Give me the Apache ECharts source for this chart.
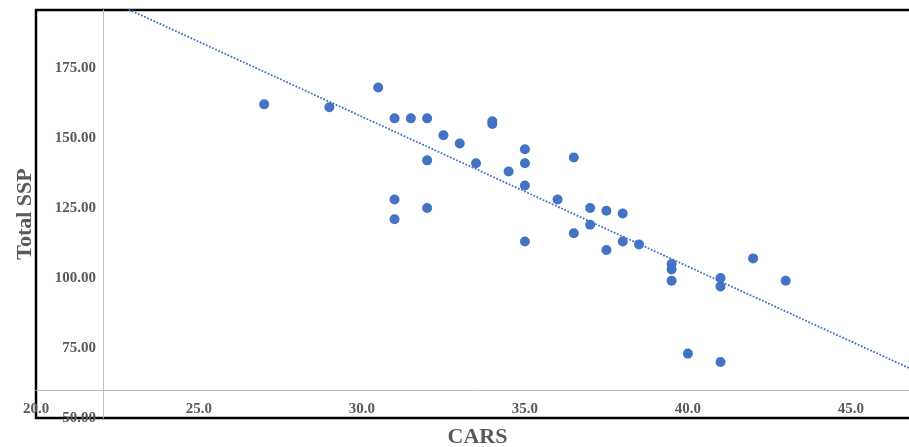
<!DOCTYPE html>
<html>
<head>
<meta charset="utf-8">
<script src="https://cdn.jsdelivr.net/npm/echarts@6/dist/echarts.min.js"></script>
<style>
html,body{margin:0;padding:0;background:#fff;overflow:hidden;}
#c{width:909px;height:447px;}
</style>
</head>
<body>
<div id="c"></div>
<script>
// CARS values
var carsX = [27, 29, 30.5, 31, 31.5, 32, 32, 31, 31, 32, 32.5, 33, 33.5, 34, 34, 34.5, 35, 35, 35, 35,
  36.5, 36, 36.5, 37, 37, 37.5, 38, 37.5, 38, 38.5, 39.5, 39.5, 39.5, 41, 41, 42, 43, 40, 41];
// Total SSP values
var sspY = [162, 161, 168, 157, 157, 157, 142, 128, 121, 125, 151, 148, 141, 156, 155, 138, 146, 141, 133, 113,
  143, 128, 116, 125, 119, 124, 123, 110, 113, 112, 105, 103, 99, 100, 97, 107, 99, 73, 70];
// Linear trendline endpoints
var trendX = [20, 47.5];
var trendY = [211.1, 64.0];

var xTitle = 'CARS';
var yTitle = 'Total SSP';

var points = carsX.map(function (x, i) { return [x, sspY[i]]; });
var trend = trendX.map(function (x, i) { return [x, trendY[i]]; });

var txt = '#595959';
var font = 'Liberation Serif';

var chart = echarts.init(document.getElementById('c'), null, {renderer: 'canvas'});
chart.setOption({
  animation: false,
  backgroundColor: '#ffffff',
  grid: {
    left: 36, top: 10, width: 883, height: 408,
    outerBoundsMode: 'none', containLabel: false,
    show: true, borderColor: '#000000', borderWidth: 2.5, backgroundColor: 'transparent'
  },
  xAxis: {
    type: 'value', min: 20, max: 47.09, interval: 5, offset: -28,
    axisLine: {show: true, onZero: false, lineStyle: {color: '#BFBFBF', width: 1}},
    axisTick: {show: false},
    splitLine: {show: false},
    axisLabel: {
      color: txt, fontFamily: font, fontWeight: 'bold', fontSize: 15, margin: 12,
      showMaxLabel: false,
      formatter: function (v) { return v.toFixed(1); }
    },
    name: xTitle, nameLocation: 'middle', nameGap: 36,
    nameTextStyle: {color: txt, fontFamily: font, fontWeight: 'bold', fontSize: 22}
  },
  yAxis: {
    type: 'value', min: 50, max: 195.7, interval: 25, offset: -67,
    axisLine: {show: true, onZero: false, lineStyle: {color: '#BFBFBF', width: 1}},
    axisTick: {show: false},
    splitLine: {show: false},
    axisLabel: {
      color: txt, fontFamily: font, fontWeight: 'bold', fontSize: 15, margin: 7,
      showMaxLabel: false,
      formatter: function (v) { return v.toFixed(2); }
    },
    name: yTitle, nameLocation: 'middle', nameGap: 67,
    nameTextStyle: {color: txt, fontFamily: font, fontWeight: 'bold', fontSize: 22}
  },
  series: [
    {
      type: 'line', data: trend, symbol: 'none', silent: true,
      lineStyle: {color: '#4472C4', width: 1.8, type: [1.8, 1.6]},
      z: 1
    },
    {
      type: 'scatter', data: points, symbolSize: 10,
      itemStyle: {color: '#4472C4', opacity: 1},
      z: 2
    }
  ]
});
</script>
</body>
</html>
